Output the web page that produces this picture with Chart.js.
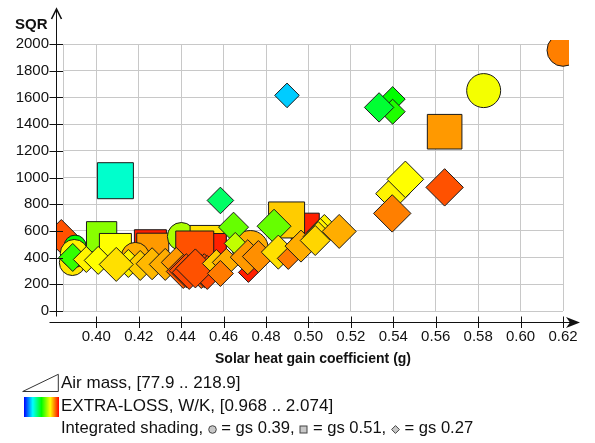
<!DOCTYPE html>
<html>
<head>
<meta charset="utf-8">
<script src="https://cdn.jsdelivr.net/npm/chart.js@4.4.1/dist/chart.umd.min.js"></script>
<style>
  html, body { margin: 0; padding: 0; background: #fff; }
  #wrap { position: relative; width: 595px; height: 443px; font-family: 'Liberation Sans', Arial, sans-serif; }
  #chart { position: absolute; left: 0; top: 0; }
  .lg { position: absolute; left: 61px; font-size: 17px; line-height: 20px; color: #111; white-space: nowrap; }
  .lg svg { vertical-align: -1px; }
  #tri { position: absolute; left: 22px; top: 373px; }
  #bar { position: absolute; left: 24px; top: 397px; width: 35px; height: 20px;
         background: linear-gradient(to right, hsl(240,100%,50%), hsl(180,100%,50%), hsl(120,100%,50%), hsl(60,100%,50%), hsl(0,100%,50%)); }
</style>
</head>
<body>
<div id="wrap">
  <canvas id="chart" width="595" height="443"></canvas>
  <svg id="tri" width="38" height="20"><polygon points="0.7,18.5 36.3,1.3 36.3,18.5" fill="#fff" stroke="#333" stroke-width="1"/></svg>
  <div id="bar"></div>
  <div class="lg" id="lgAir" style="top:373px"></div>
  <div class="lg" id="lgLoss" style="top:396px"></div>
  <div class="lg" style="top:418px; font-size:16.6px">Integrated shading, <svg width="9" height="9"><circle cx="4.5" cy="4.5" r="3.8" fill="#c8c8c8" stroke="#444"/></svg> = gs 0.39, <svg width="9" height="9"><rect x="1" y="1" width="7" height="7" fill="#c8c8c8" stroke="#444"/></svg> = gs 0.51, <svg width="9" height="9"><polygon points="4.5,0.6 8.4,4.5 4.5,8.4 0.6,4.5" fill="#c8c8c8" stroke="#444"/></svg> = gs 0.27</div>
</div>
<script>
// ── Data: solar heat gain coefficient vs SQR ──
const gValues = [
  0.4255, 0.4266, 0.4401, 0.4527, 0.4542, 0.4464, 0.4726, 0.4985, 0.4897, 0.4838, 0.4025, 0.3835, 0.3900,
  0.3887, 0.3896, 0.3889, 0.4090, 0.3953, 0.4009, 0.4184, 0.4151, 0.4207, 0.4094, 0.4263, 0.4325, 0.4377,
  0.4410, 0.4424, 0.4438, 0.4495, 0.4509, 0.4523, 0.4467,
  0.4566, 0.4613, 0.4585, 0.4717, 0.4647, 0.4655, 0.4714, 0.4764, 0.4858, 0.4905, 0.4965, 0.5075, 0.5056,
  0.5046, 0.5032, 0.5145,
  0.4585, 0.4090, 0.4899, 0.5397, 0.5397, 0.5333, 0.5642, 0.5826, 0.6200, 0.5397, 0.5457, 0.5395, 0.5642
];
const sqrValues = [
  489, 463, 558, 506, 468, 457, 468, 628, 682, 635, 556, 558, 486,
  363, 431, 401, 461, 386, 379, 409, 356, 341, 349, 354, 349, 364,
  296, 302, 289, 296, 302, 289, 319,
  356, 364, 281, 289, 628, 506, 403, 408, 441, 394, 486, 633, 588,
  558, 528, 596,
  828, 976, 1615, 1587, 1493, 1525, 1343, 1651, 1953, 879, 986, 731, 926
];
const airMass = [
  167.6, 167.6, 142.0, 193.3, 154.8, 206.1, 193.3, 142.0, 193.3, 180.5, 156.5, 180.5, 103.5,
  129.2, 142.0, 142.0, 167.6, 129.2, 142.0, 142.0, 142.0, 154.8, 180.5, 167.6, 167.6, 154.8,
  180.5, 180.5, 180.5, 180.5, 180.5, 180.5, 212.5,
  142.0, 142.0, 129.2, 90.7, 154.8, 103.5, 186.9, 167.6, 180.5, 103.5, 167.6, 116.4, 142.0,
  154.8, 154.8, 180.5,
  133.0, 193.3, 120.2, 122.8, 122.8, 151.0, 184.3, 180.5, 167.6, 180.5, 197.1, 202.3, 202.3
];
const extraLoss = [
  2.041, 1.908, 1.706, 1.831, 2.041, 1.986, 1.886, 2.041, 1.853, 1.632, 1.668, 1.986, 1.521,
  1.825, 1.809, 1.576, 1.798, 1.809, 1.798, 1.886, 1.809, 1.853, 1.831, 1.875, 1.886, 1.908,
  1.975, 1.986, 1.997, 1.975, 1.986, 1.997, 1.986,
  1.853, 1.886, 1.941, 2.041, 1.632, 1.731, 1.908, 1.919, 1.831, 1.941, 1.886, 1.809, 1.809,
  1.831, 1.842, 1.886,
  1.410, 1.300, 1.189, 1.521, 1.554, 1.466, 1.908, 1.786, 1.936, 1.809, 1.798, 1.936, 1.986
];
const shading = [
  0.51, 0.51, 0.39, 0.51, 0.51, 0.51, 0.39, 0.51, 0.51, 0.27, 0.51, 0.27, 0.39,
  0.39, 0.39, 0.27, 0.51, 0.27, 0.27, 0.39, 0.27, 0.27, 0.27, 0.27, 0.27, 0.27,
  0.27, 0.27, 0.27, 0.27, 0.27, 0.27, 0.27,
  0.27, 0.27, 0.27, 0.27, 0.27, 0.27, 0.27, 0.27, 0.27, 0.27, 0.27, 0.27, 0.27,
  0.27, 0.27, 0.27,
  0.27, 0.51, 0.27, 0.27, 0.27, 0.27, 0.51, 0.39, 0.39, 0.27, 0.27, 0.27, 0.27
];
const xTicks = [0.40, 0.42, 0.44, 0.46, 0.48, 0.50, 0.52, 0.54, 0.56, 0.58, 0.60, 0.62];
const yTicks = [0, 200, 400, 600, 800, 1000, 1200, 1400, 1600, 1800, 2000];
const AIR_RANGE = [77.9, 218.9];
const LOSS_RANGE = [0.968, 2.074];
const X_MIN = 0.3843;

const FONT = "'Liberation Sans', Arial, sans-serif";
const SHAPES = { 0.39: 'circle', 0.51: 'rect', 0.27: 'rectRot' };

document.getElementById('lgAir').textContent = `Air mass, [${AIR_RANGE[0]} .. ${AIR_RANGE[1]}]`;
document.getElementById('lgLoss').textContent = `EXTRA-LOSS, W/K, [${LOSS_RANGE[0]} .. ${LOSS_RANGE[1]}]`;

// rainbow colour scale: blue (low loss) -> red (high loss)
function lossColor(v) {
  const t = Math.min(1, Math.max(0, (v - LOSS_RANGE[0]) / (LOSS_RANGE[1] - LOSS_RANGE[0])));
  return `hsl(${(240 * (1 - t)).toFixed(1)},100%,50%)`;
}
// marker half-size from air mass
function markerSize(am) {
  return 9 + 11 * (am - AIR_RANGE[0]) / (AIR_RANGE[1] - AIR_RANGE[0]);
}

const styles = shading.map(gs => SHAPES[gs]);
const radii = airMass.map((am, i) => styles[i] === 'rect' ? markerSize(am) * Math.SQRT2 : markerSize(am));
const colors = extraLoss.map(lossColor);

// ── Axis lines with arrows, tick marks, SQR label ──
const axesPlugin = {
  id: 'axes',
  afterDatasetsDraw(chart) {
    const { ctx, chartArea: a, scales: { x, y } } = chart;
    const ax = a.left - 6.5, ay = a.bottom + 11.5;
    ctx.save();
    ctx.strokeStyle = '#111';
    ctx.fillStyle = '#111';
    ctx.lineWidth = 1;
    ctx.beginPath();
    ctx.moveTo(ax, ay - 6); ctx.lineTo(ax, 10);
    ctx.moveTo(ax - 7, ay); ctx.lineTo(578, ay);
    yTicks.forEach(v => { const py = Math.round(y.getPixelForValue(v)) + 0.5; ctx.moveTo(ax - 7, py); ctx.lineTo(a.left, py); });
    xTicks.forEach(v => { const px = Math.round(x.getPixelForValue(v)) + 0.5; ctx.moveTo(px, ay - 6); ctx.lineTo(px, ay + 5.5); });
    ctx.stroke();
    // y arrow
    ctx.lineWidth = 1.6;
    ctx.beginPath();
    ctx.moveTo(ax - 5, 19); ctx.lineTo(ax, 9); ctx.lineTo(ax + 5, 19);
    ctx.stroke();
    // x arrow
    ctx.beginPath();
    ctx.moveTo(580, ay); ctx.lineTo(566, ay - 5.5); ctx.lineTo(570, ay); ctx.lineTo(566, ay + 5.5);
    ctx.closePath();
    ctx.fill();
    ctx.font = 'bold 15px ' + FONT;
    ctx.textAlign = 'left';
    ctx.textBaseline = 'alphabetic';
    ctx.fillText('SQR', 15, 28.5);
    ctx.restore();
  }
};

new Chart(document.getElementById('chart'), {
  type: 'scatter',
  data: {
    datasets: [{
      data: gValues.map((g, i) => ({ x: g, y: sqrValues[i] })),
      pointStyle: styles,
      pointRadius: radii,
      pointHoverRadius: radii,
      pointBackgroundColor: colors,
      pointBorderColor: '#1a1a1a',
      pointBorderWidth: 1,
      clip: { left: 6, top: 4, right: 6, bottom: 6 }
    }]
  },
  options: {
    responsive: false,
    animation: false,
    layout: { padding: { left: 0, top: 44, right: 32, bottom: 71 } },
    plugins: { legend: { display: false }, tooltip: { enabled: false } },
    scales: {
      x: {
        type: 'linear', min: X_MIN, max: 0.62,
        afterBuildTicks: s => { s.ticks = [X_MIN, ...xTicks].map(v => ({ value: v })); },
        afterFit: s => { s.height = 61; },
        grid: { color: '#c8c8c8', drawTicks: false },
        border: { display: false },
        ticks: {
          padding: 17, autoSkip: false, maxRotation: 0, color: '#111',
          font: { family: FONT, size: 15 },
          callback: v => xTicks.includes(v) ? v.toFixed(2) : ''
        },
        title: { display: true, text: 'Solar heat gain coefficient (g)', color: '#111', font: { family: FONT, size: 14, weight: 'bold' } }
      },
      y: {
        min: 0, max: 2000,
        afterBuildTicks: s => { s.ticks = yTicks.map(v => ({ value: v })); },
        afterFit: s => { s.width = 63; },
        grid: { color: '#c8c8c8', drawTicks: false },
        border: { display: false },
        ticks: { padding: 14, color: '#111', font: { family: FONT, size: 15 }, callback: v => String(v) }
      }
    }
  },
  plugins: [axesPlugin]
});
</script>
</body>
</html>
